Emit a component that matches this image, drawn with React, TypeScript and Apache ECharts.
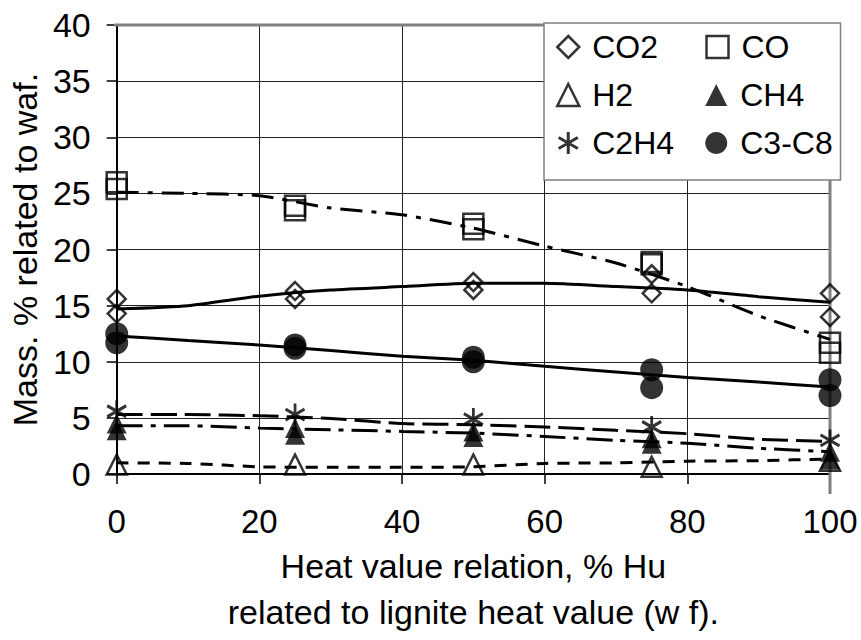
import React, { useEffect, useRef } from "react";
import * as echarts from "echarts";

// ---- data ----
const xValues = [0, 25, 50, 75, 100];
const xTicks = [0, 20, 40, 60, 80, 100];
const yTicks = [0, 5, 10, 15, 20, 25, 30, 35, 40];

// measured points (two replicate runs where visible)
const co2A = [15.6, 16.3, 17.1, 17.8, 16.1];
const co2B = [14.3, 15.6, 16.4, 16.1, 14.0];
const coA = [26.0, 23.9, 22.3, 18.9, 11.7];
const coB = [25.4, 23.5, 21.8, 18.7, 10.8];
const h2A = [0.85, 0.85, 0.85, 0.65, 1.2];
const ch4A = [4.5, 4.1, 3.8, 3.2, 2.0];
const ch4B = [3.9, 3.5, 3.3, 2.7, 1.3];
const c2h4A = [5.6, 5.3, 4.9, 4.2, 3.0];
const c38A = [12.5, 11.5, 10.4, 9.3, 8.4];
const c38B = [11.7, 11.2, 10.0, 7.7, 7.0];

// trend lines, read at these x positions
const trendX = [0, 10, 20, 30, 40, 50, 60, 70, 80, 90, 100];
const co2Trend = [14.7, 15.0, 15.85, 16.4, 16.7, 17.0, 17.0, 16.7, 16.4, 15.8, 15.3];
const coTrend = [25.1, 25.0, 24.8, 23.7, 23.1, 21.9, 20.3, 18.8, 16.7, 14.1, 12.0];
const c38Trend = [12.3, 11.9, 11.5, 11.0, 10.5, 10.15, 9.6, 9.1, 8.6, 8.2, 7.75];
const c2h4Trend = [5.3, 5.3, 5.2, 4.95, 4.5, 4.4, 4.2, 3.9, 3.6, 3.1, 2.9];
const ch4Trend = [4.3, 4.3, 4.1, 3.95, 3.8, 3.65, 3.35, 3.0, 2.75, 2.3, 2.0];
const h2Trend = [1.0, 0.95, 0.65, 0.6, 0.6, 0.65, 0.95, 1.0, 1.15, 1.2, 1.35];

const FONT = "Liberation Sans";
const ASTERISK = "path://M10,0L10,20M1.3,5L18.7,15M1.3,15L18.7,5";

const pairs = (xs: number[], ...ys: number[][]) =>
  ys.flatMap((arr) => arr.map((v, i) => [xs[i], v]));

const openStyle = { color: "rgba(0,0,0,0)", borderColor: "#000", borderWidth: 2.5 };
const filledStyle = { color: "#000", borderColor: "#000", borderWidth: 0 };

export default function App() {
  const ref = useRef<HTMLDivElement>(null);
  useEffect(() => {
    if (!ref.current) return;
    document.body.style.margin = "0";
    const chart = echarts.init(ref.current, undefined, { renderer: "svg" });
    const grid = { left: 114, right: 31, top: 25, bottom: 146 };
    const W = 861;
    const H = 640;
    const trendLine = (name: string, ys: number[], type: any) => ({
      name,
      type: "line",
      data: trendX.map((x, i) => [x, ys[i]]),
      showSymbol: false,
      smooth: 0.2,
      silent: true,
      z: 4,
      lineStyle: { color: "#000", width: 3, type },
    });
    chart.setOption({
      animation: false,
      backgroundColor: "#fff",
      textStyle: { fontFamily: FONT },
      grid: { ...grid, show: false },
      graphic: [
        {
          type: "line",
          z: 1,
          shape: { x1: grid.left, y1: grid.top, x2: W - grid.right, y2: grid.top },
          style: { stroke: "#808080", lineWidth: 3 },
        },
        {
          type: "line",
          z: 1,
          shape: { x1: W - grid.right, y1: grid.top, x2: W - grid.right, y2: H - grid.bottom },
          style: { stroke: "#808080", lineWidth: 3 },
        },
      ],
      legend: {
        data: [
          { name: "CO2", icon: "diamond", itemStyle: openStyle },
          { name: "CO", icon: "rect", itemStyle: openStyle },
          { name: "H2", icon: "triangle", itemStyle: openStyle },
          { name: "CH4", icon: "triangle", itemStyle: filledStyle },
          { name: "C2H4", icon: ASTERISK, itemStyle: { ...openStyle, borderWidth: 3 } },
          { name: "C3-C8", icon: "circle", itemStyle: filledStyle },
        ],
        orient: "horizontal",
        left: 544,
        top: 23,
        width: 285,
        padding: [7, 0, 20, 12],
        itemGap: 14,
        itemWidth: 22,
        itemHeight: 22,
        backgroundColor: "#fff",
        borderColor: "#808080",
        borderWidth: 1.5,
        selectedMode: false,
        z: 10,
        textStyle: {
          fontFamily: FONT,
          fontSize: 32,
          color: "#000",
          width: 99,
          lineHeight: 34,
          padding: [0, 0, 0, 8],
        },
      },
      xAxis: {
        type: "value",
        min: xTicks[0],
        max: xTicks[xTicks.length - 1],
        interval: xTicks[1] - xTicks[0],
        name: "Heat value relation, % Hu\nrelated to lignite heat value (w f).",
        nameLocation: "middle",
        nameGap: 55,
        nameTextStyle: { fontFamily: FONT, fontSize: 34, color: "#000", lineHeight: 46 },
        axisLine: { lineStyle: { color: "#000", width: 2 } },
        axisTick: { length: 10, lineStyle: { color: "#000", width: 1.5 } },
        axisLabel: { fontFamily: FONT, fontSize: 33, color: "#000", margin: 31 },
        splitLine: { show: true, lineStyle: { color: "#222", width: 1 } },
      },
      yAxis: {
        type: "value",
        min: yTicks[0],
        max: yTicks[yTicks.length - 1],
        interval: yTicks[1] - yTicks[0],
        name: "Mass. % related to waf.",
        nameLocation: "middle",
        nameGap: 73,
        nameTextStyle: { fontFamily: FONT, fontSize: 34, color: "#000" },
        axisLine: { show: true, lineStyle: { color: "#000", width: 2 } },
        axisTick: { show: true, length: 10, lineStyle: { color: "#000", width: 1.5 } },
        axisLabel: { fontFamily: FONT, fontSize: 34, color: "#000", margin: 26 },
        splitLine: { show: true, lineStyle: { color: "#222", width: 1 } },
      },
      series: [
        {
          name: "CO2",
          type: "scatter",
          symbol: "diamond",
          symbolSize: 18,
          itemStyle: openStyle,
          data: pairs(xValues, co2A, co2B),
          z: 3,
        },
        {
          name: "CO",
          type: "scatter",
          symbol: "rect",
          symbolSize: 20,
          itemStyle: openStyle,
          data: pairs(xValues, coA, coB),
          z: 3,
        },
        {
          name: "H2",
          type: "scatter",
          symbol: "triangle",
          symbolSize: 20,
          itemStyle: openStyle,
          data: pairs(xValues, h2A),
          z: 3,
        },
        {
          name: "CH4",
          type: "scatter",
          symbol: "triangle",
          symbolSize: 20,
          itemStyle: filledStyle,
          data: pairs(xValues, ch4A, ch4B),
          z: 3,
        },
        {
          name: "C2H4",
          type: "scatter",
          symbol: ASTERISK,
          symbolSize: [19, 22],
          itemStyle: { ...openStyle, borderWidth: 3 },
          data: pairs(xValues, c2h4A),
          z: 3,
        },
        {
          name: "C3-C8",
          type: "scatter",
          symbol: "circle",
          symbolSize: 23,
          itemStyle: filledStyle,
          data: pairs(xValues, c38A, c38B),
          z: 3,
        },
        trendLine("CO2 trend", co2Trend, "solid"),
        trendLine("CO trend", coTrend, [22, 9, 5, 9]),
        trendLine("C3-C8 trend", c38Trend, "solid"),
        trendLine("C2H4 trend", c2h4Trend, [26, 8]),
        trendLine("CH4 trend", ch4Trend, [26, 8, 5, 8]),
        trendLine("H2 trend", h2Trend, [12, 9]),
      ],
    });
    return () => chart.dispose();
  }, []);
  return (
    <div
      ref={ref}
      style={{ position: "absolute", left: 0, top: 0, width: 861, height: 640 }}
    />
  );
}
